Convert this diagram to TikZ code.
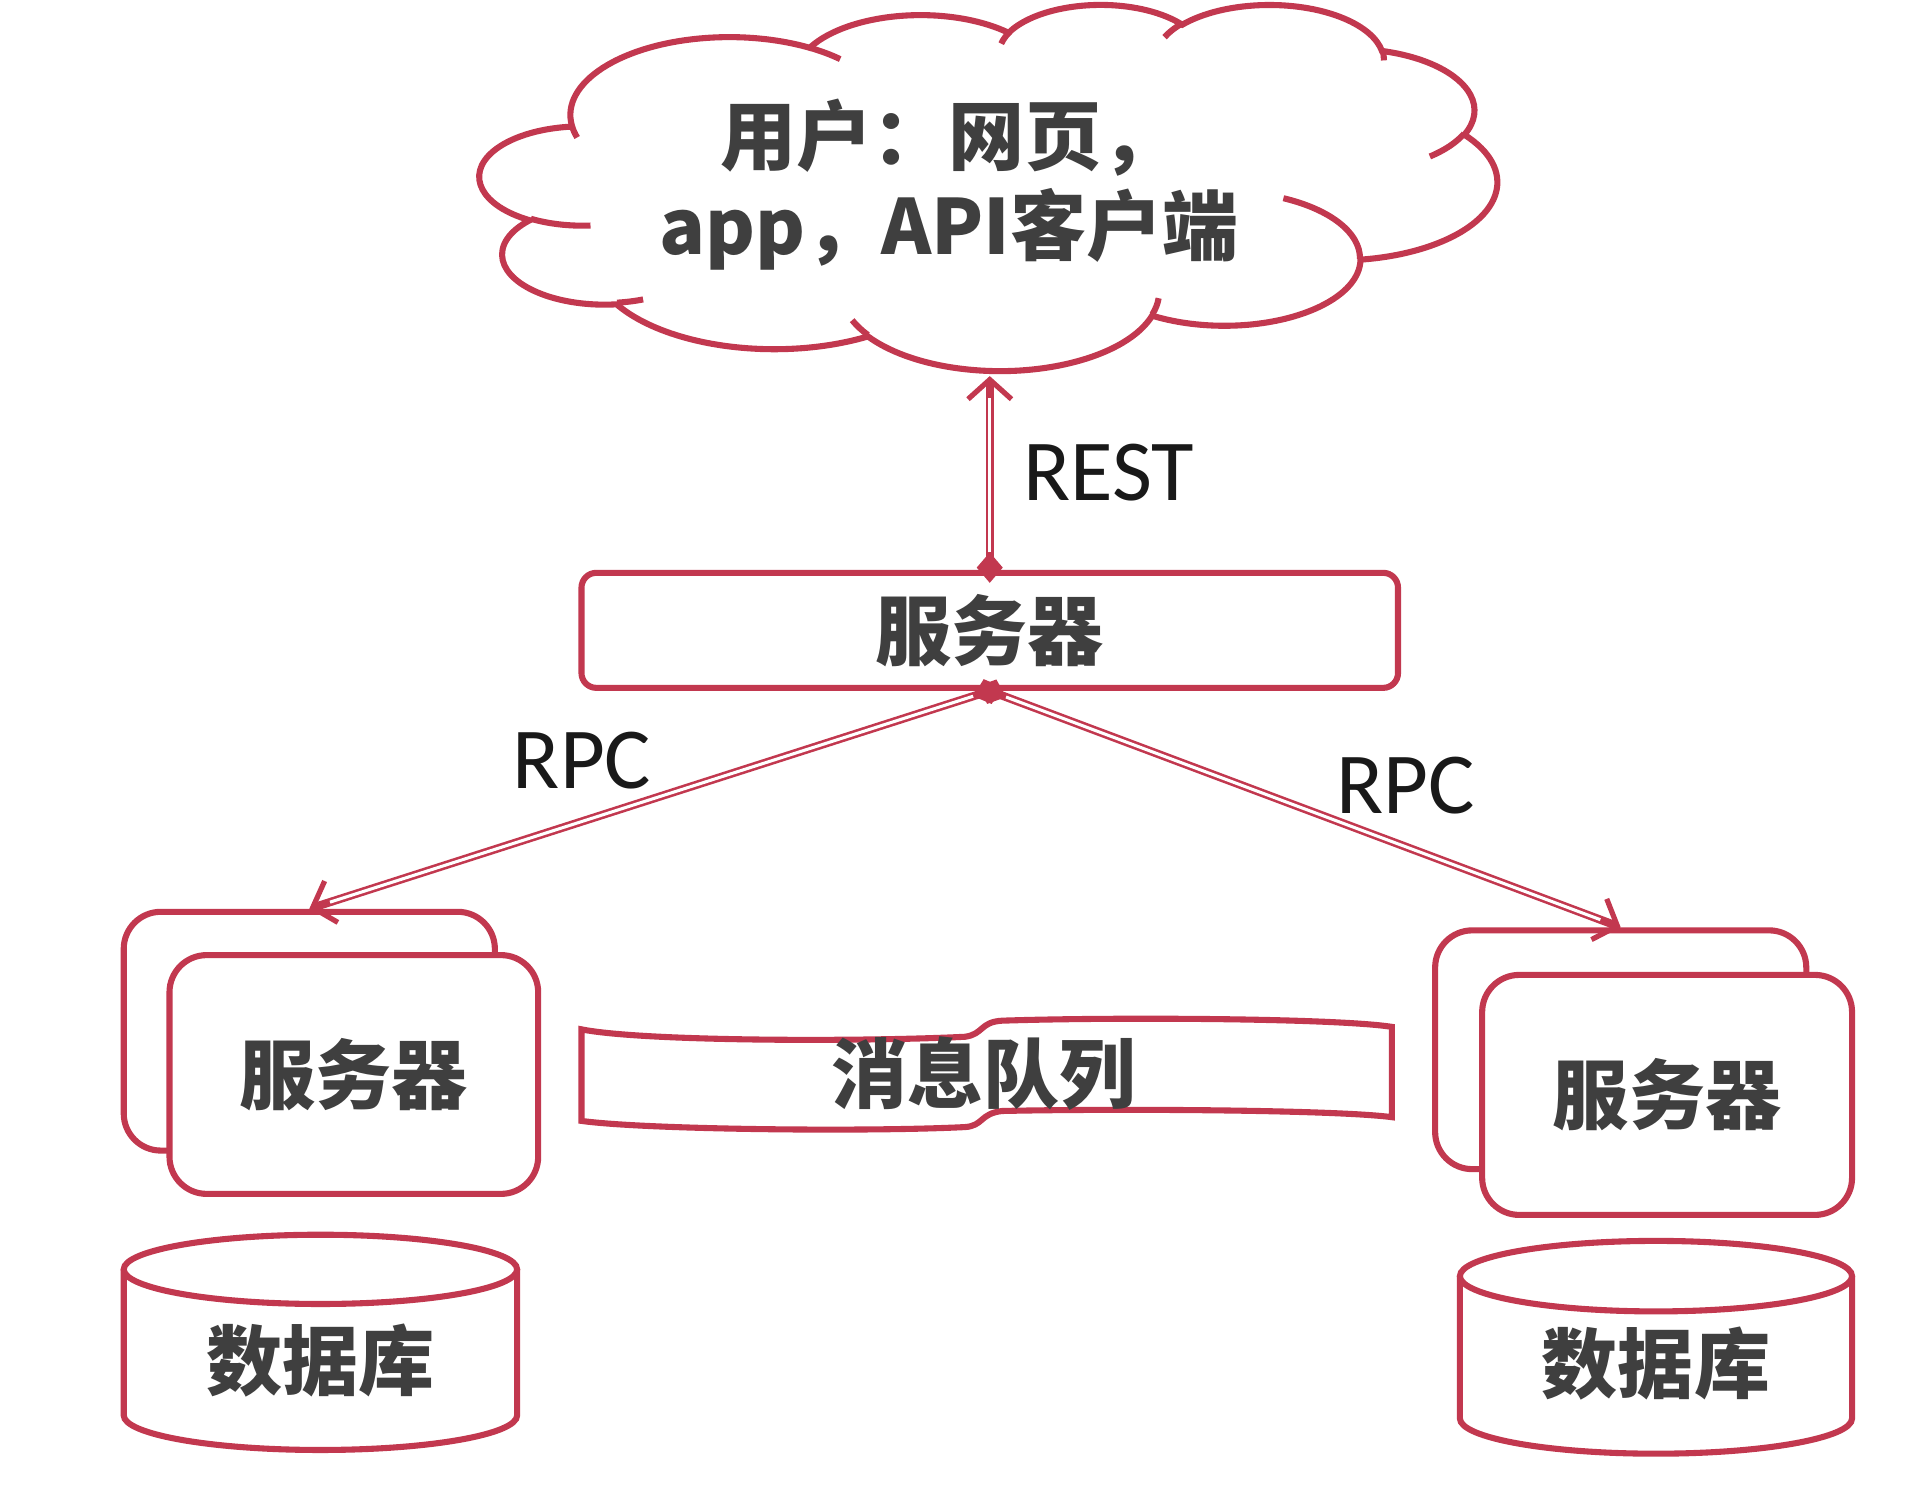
\documentclass[tikz,border=0pt]{standalone}
\usepackage{fontspec}
\setmainfont{Carlito}
\newfontfamily\cjk{Noto Sans CJK SC}
\usetikzlibrary{arrows.meta, positioning}
\definecolor{qred}{HTML}{C2384F}
\definecolor{qgray}{HTML}{3F3F3F}
\tikzset{>={Straight Barb[length=4.5pt, width=10pt, line width=1.2pt]}}
\tikzset{
  zh/.style={font=\cjk\bfseries\fontsize{17.5}{20.8}\selectfont, text=qgray},
  box/.style={draw=qred, line width=1.4pt, fill=white, zh},
  conn/.style={draw=qred, line width=1.9pt, shorten <=-3pt,
    postaction={draw=white, line width=0.7pt, -, shorten <=4pt, shorten >=5pt}},
  lbl/.style={font=\fontsize{20}{24}\selectfont, text=black!90}
}

\begin{document}
\begin{tikzpicture}[x=0.1mm, y=-0.1mm]
\useasboundingbox (0,0) rectangle (1560,1200);

\begin{scope}[xshift=38.8mm, yshift=-0.3mm, x=0.19028mm, y=-0.06849mm]
\draw[qred, line width=1.4pt, fill=white] (39.00,143.70)
  arc (172.26:300.36:67.53 and 91.90) arc (-152.02:-45.45:53.33 and 72.67)
  arc (-153.49:-37.35:43.65 and 59.45) arc (-139.71:-10.21:48.57 and 65.95)
  arc (-74.77:23.21:53.33 and 72.73) arc (-37.53:81.86:67.75 and 92.20)
  arc (0.46:121.98:57.85 and 78.67) arc (16.84:146.22:67.52 and 92.15)
  arc (58.98:150.18:77.20 and 105.43) arc (83.31:223.10:43.60 and 59.18)
  arc (120.36:264.11:43.45 and 59.45) -- cycle;
\draw[qred, line width=1.4pt]
  (46.93,261.77) arc (85.55:120.36:43.45 and 59.45)
  (69.28,348.99) arc (68.24:83.31:43.60 and 59.18)
  (164.78,390.90) arc (146.22:158.47:67.52 and 92.15)
  (288.27,347.51) arc (4.74:16.84:67.52 and 92.15)
  (341.29,229.54) arc (-64.03:0.46:57.85 and 78.67)
  (417.98,153.54) arc (23.21:49.65:53.33 and 72.73)
  (383.24,54.26) arc (-10.21:0.82:48.57 and 65.95)
  (290.78,39.52) arc (-156.29:-139.71:48.57 and 65.95)
  (221.41,47.20) arc (-167.73:-153.49:43.65 and 59.45)
  (140.00,51.92) arc (-59.64:-45.74:67.53 and 91.90)
  (41.27,157.89) arc (163.19:172.26:67.53 and 91.90);
\end{scope}
\node[zh, align=center] (user) at (767,149) {用户：网页，\\app，API客户端};
\coordinate (cloudbot) at (800,304);

\node[box, rounded corners=1.2mm, minimum width=6.6cm, minimum height=0.93cm] (srv) at (800,509.5) {服务器};

\node[box, rounded corners=3mm, minimum width=3.0cm, minimum height=1.93cm] (lsrvb) at (250,833.5) {};
\node[box, rounded corners=3mm, minimum width=2.98cm, minimum height=1.93cm] (lsrv) at (286,868.5) {服务器};
\node[box, rounded corners=3mm, minimum width=3.0cm, minimum height=1.93cm] (rsrvb) at (1310,848.5) {};
\node[box, rounded corners=3mm, minimum width=2.99cm, minimum height=1.94cm] (rsrv) at (1347.5,885) {服务器};

\draw[qred, line width=1.4pt, fill=white] (470,832) .. controls (520,842) and (700,842) .. (780,838)
  .. controls (795,836) and (792,826) .. (810,825) .. controls (900,822) and (1080,823) .. (1125,830)
  -- (1125,903) .. controls (1080,897) and (900,896) .. (810,898)
  .. controls (792,900) and (795,910) .. (780,911) .. controls (700,915) and (520,913) .. (470,906) -- cycle;
\node[zh] (mq) at (795,868) {消息队列};

\draw[qred, line width=1.4pt, fill=white] (100,1026) -- (100,1144) arc (180:0:159 and 28) -- (418,1026);
\draw[qred, line width=1.4pt, fill=white] (259,1026) ellipse (159 and 28);
\node[zh] (ldb) at (259,1100) {数据库};
\draw[qred, line width=1.4pt, fill=white] (1180,1031.5) -- (1180,1146.5) arc (180:0:158.5 and 28.5) -- (1497,1031.5);
\draw[qred, line width=1.4pt, fill=white] (1338.5,1031.5) ellipse (158.5 and 28.5);
\node[zh] (rdb) at (1338.5,1102) {数据库};

\draw[conn, {Diamond[length=7pt, width=6pt]}->] (srv.north) -- node[lbl, right=1.2mm] {REST} (cloudbot);
\draw[conn, {Diamond[length=7pt, width=6pt]}->] (srv.south) -- node[lbl, above left, pos=0.47, yshift=-1.2mm] {RPC} (lsrvb.north);
\draw[conn, {Diamond[length=7pt, width=6pt]}->] (srv.south) -- node[lbl, above right, pos=0.52, yshift=-1.5mm] {RPC} (rsrvb.north);
\end{tikzpicture}
\end{document}
